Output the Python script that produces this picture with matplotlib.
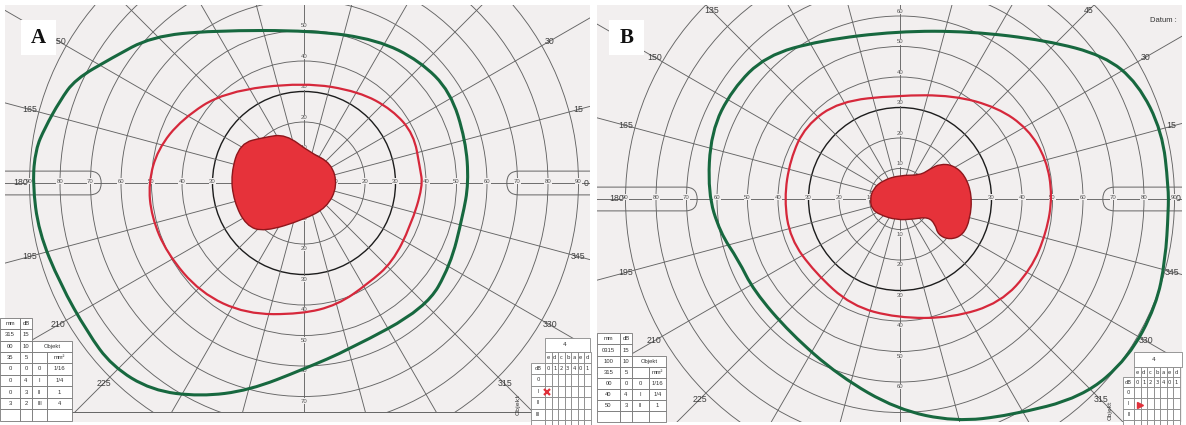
import matplotlib
matplotlib.use("Agg")
import matplotlib.pyplot as plt
import numpy as np
from matplotlib.patches import Circle, PathPatch, FancyBboxPatch, Rectangle
from matplotlib.path import Path

W, H = 1186, 425
K = 3.05          # pixels per degree on the scanned form
BG = "#f2efef"
GRID = "#646464"
TXT = "#3e3e3e"

RINGS = [10, 20, 30, 40, 50, 60, 70, 80, 90]
MERIDIANS = list(range(0, 360, 15))
VERT_LABELS = [10, 20, 30, 40, 50, 60, 70]

# isopters, degrees (x right, y up)
GREEN_A_X = [3, -30, -50, -63, -75, -80, -85, -88, -89, -87, -80, -71, -63, -50,
             -34, -18, 0, 15, 40, 48, 52, 54, 53, 48, 38, 24]
GREEN_A_Y = [50, 50, 48, 41, 34, 27, 18, 11, 0, -16, -33, -49, -60, -68,
             -70, -68, -61, -54.5, -41, -27, -11, 0, 14, 30, 40, 47]
RED_A_X = [0, -26, -40, -48, -51, -50, -45, -34, -19, -1, 11, 21, 29, 35, 39, 38, 36, 29, 18]
RED_A_Y = [33, 30, 21, 11, 0, -11, -23, -36, -43, -43, -40, -33, -26, -14, -1, 5, 16, 24, 30]
SCOTOMA_A_X = [-13, -6, 2, 9, 11, 7.5, 0, -13, -19, -23, -24, -21]
SCOTOMA_A_Y = [15, 16, 10, 6.5, -1, -8, -12, -16, -14, -6, 3, 13]

GREEN_B_X = [-1, -26, -44, -55, -62, -63, -59, -53, -48, -36, -20, -1, 18, 36,
             60, 75, 84, 87, 88, 88, 86, 78, 67, 48, 23]
GREEN_B_Y = [55, 52, 47, 36, 22, 2, -11, -20, -30, -44, -58, -69, -73, -71,
             -65, -52, -35, -20, -4, 4, 22, 38, 47, 52, 55]
RED_B_X = [-1, -20, -31, -36, -38, -36, -28, -16, -1, 17, 33, 43, 48, 50, 48, 42, 32, 17.5]
RED_B_Y = [34, 32, 24, 13, 0, -13, -24, -35, -39, -39, -34, -23, -11, 1, 13, 23, 30, 34]
SCOTOMA_B_X = [-9.8, -8.9, -5.5, 0, 6.6, 9.8, 13.1, 17.4, 21.3, 23.6, 23, 20.7, 16.4,
               12.5, 11.5, 9.2, 4.4, -1.1, -6.6, -9.2]
SCOTOMA_B_Y = [-0.3, 3.3, 6.2, 7.8, 7.8, 9.8, 11.5, 11.1, 7.8, 1.3, -6.6, -11.8, -13.4,
               -11.8, -8.2, -5.9, -6.6, -6.9, -5.2, -3.3]

# printed tables in the corners of the forms
TABLE_A_ROWS = [["mm", "dB"], ["315", "15"], ["00", "10", "Objekt", None],
                ["35", "5", "", "mm²"], ["0", "0", "0", "1/16"], ["0", "4", "I", "1/4"],
                ["0", "3", "II", "1"], ["3", "2", "III", "4"], ["", "", "", ""]]
TABLE_B_ROWS = [["mm", "dB"], ["0315", "15"], ["100", "10", "Objekt", None],
                ["315", "5", "", "mm²"], ["00", "0", "0", "1/16"], ["40", "4", "I", "1/4"],
                ["50", "3", "II", "1"], ["", "", "", ""]]
FILTER_HEAD = ["e", "d", "c", "b", "a", "e", "d"]
FILTER_DB = ["0", "1", "2", "3", "4", "0", "1"]
FILTER_ROWS = ["0", "I", "II", "III", "IV"]


def panel(fig, left, right, top, bottom, cx, cy):
    ax = fig.add_axes([left / W, 1 - bottom / H, (right - left) / W, (bottom - top) / H])
    ax.set_xlim((left - cx) / K, (right - cx) / K)
    ax.set_ylim((cy - bottom) / K, (cy - top) / K)
    ax.set_facecolor(BG)
    ax.set_xticks([])
    ax.set_yticks([])
    for s in ax.spines.values():
        s.set_visible(False)
    return ax


def smooth_closed(xs, ys):
    # quadratic bezier through the midpoints, read points act as control points
    p = np.column_stack([xs, ys]).astype(float)
    mid = (p + np.roll(p, -1, axis=0)) / 2
    verts = [mid[-1]]
    codes = [Path.MOVETO]
    for i in range(len(p)):
        verts += [p[i], mid[i]]
        codes += [Path.CURVE3, Path.CURVE3]
    return Path(verts, codes)


def draw_form(ax, green, red, blot, form_bottom=None):
    for r in RINGS:
        dark = r == 30
        ax.add_patch(Circle((0, 0), r, fill=False, ec="#1c1c1c" if dark else GRID,
                            lw=1.0 if dark else 0.65, zorder=1))
    for a in MERIDIANS:
        t = np.radians(a)
        ax.plot([5 * np.cos(t), 140 * np.cos(t)], [5 * np.sin(t), 140 * np.sin(t)],
                color=GRID, lw=0.65, zorder=1)
    # the rounded boxes on the horizontal meridian
    ax.add_patch(FancyBboxPatch((-140, -3.9), 140 - 66.5, 7.8,
                                boxstyle="round,pad=0,rounding_size=3.9",
                                fill=False, ec=GRID, lw=0.7, zorder=1))
    ax.add_patch(FancyBboxPatch((66.5, -3.9), 80, 7.8,
                                boxstyle="round,pad=0,rounding_size=3.9",
                                fill=False, ec=GRID, lw=0.7, zorder=1))
    x0, x1 = ax.get_xlim()
    y0, y1 = ax.get_ylim()
    for r in RINGS:
        for sx in (-1, 1):
            ax.text(sx * r, 0.6, str(r), fontsize=4.3, color="#555", ha="center",
                    va="center", family="Liberation Sans", zorder=2,
                    bbox=dict(fc=BG, ec="none", pad=0.2))
    for r in VERT_LABELS:
        for sy in (-1, 1):
            yy = sy * (r + 1.5)
            if y0 + 2 < yy < y1 - 2:
                ax.text(0, yy, str(r), fontsize=4.3, color="#555", ha="center",
                        va="center", family="Liberation Sans", zorder=2,
                        bbox=dict(fc=BG, ec="none", pad=0.2))

    if form_bottom is not None:
        ax.add_patch(Rectangle((x0, -200), x1 - x0, 200 + form_bottom, fc=BG, ec="none", zorder=2))
        ax.axhline(form_bottom, color=GRID, lw=0.7, zorder=2)
    for a in MERIDIANS:
        t = np.radians(a)
        px, py = 93 * np.cos(t), 93 * np.sin(t)
        margin = 1.3 if a == 0 else 3.4
        px = min(max(px, x0 + margin), x1 - margin)
        if form_bottom is not None and py < form_bottom:
            px, py = form_bottom / np.tan(t), form_bottom - 1.7
        if py > y1 - 1.8:
            if py - y1 > 4:
                continue
            py = y1 - 1.8
            px = py / np.tan(t)
        if py < y0 + 1.8:
            continue
        ax.text(px, py, str(a), fontsize=6.3, color=TXT, ha="center", va="center",
                family="Liberation Sans", zorder=3)

    ax.add_patch(PathPatch(smooth_closed(*blot), fc="#e6323a", ec="#8e161b",
                           lw=1.0, zorder=4))
    ax.add_patch(PathPatch(smooth_closed(*red), fill=False, ec="#d6283b",
                           lw=1.6, zorder=4))
    ax.add_patch(PathPatch(smooth_closed(*green), fill=False, ec="#17683f",
                           lw=2.2, zorder=4))


def draw_table(ov, cols, rows_y, rows):
    for i, row in enumerate(rows):
        ya, yb = rows_y[i], rows_y[i + 1]
        j = 0
        while j < len(row):
            span = 1
            while j + span < len(row) and row[j + span] is None:
                span += 1
            xa, xb = cols[j], cols[j + span]
            ov.add_patch(Rectangle((xa, ya), xb - xa, yb - ya, fc="white", ec="#777", lw=0.6))
            if row[j]:
                ov.text((xa + xb) / 2, (ya + yb) / 2, row[j], fontsize=4.2, color="#333",
                        ha="center", va="center", family="Liberation Sans")
            j += span


def draw_filter_table(ov, lab_x, data_x, right, top, row_h):
    cols = list(np.arange(data_x, right + 7, 6.5))
    y = top
    # header row with the filter number
    ov.add_patch(Rectangle((data_x, y), right - data_x, row_h[0], fc="white", ec="#888", lw=0.6))
    ov.text(data_x + 20, y + row_h[0] / 2, "4", fontsize=4.2, color="#333", ha="center", va="center")
    y += row_h[0]
    for labels, lab in ((FILTER_HEAD, ""), (FILTER_DB, "dB")):
        if lab:
            ov.add_patch(Rectangle((lab_x, y), data_x - lab_x, row_h[1], fc="white", ec="#888", lw=0.6))
            ov.text((lab_x + data_x) / 2, y + row_h[1] / 2, lab, fontsize=3.8, color="#333",
                    ha="center", va="center")
        for k, txt in enumerate(labels):
            ov.add_patch(Rectangle((cols[k], y), 6.5, row_h[1], fc="white", ec="#888", lw=0.6))
            ov.text(cols[k] + 3.25, y + row_h[1] / 2, txt, fontsize=3.8, color="#333",
                    ha="center", va="center")
        y += row_h[1]
    for lab in FILTER_ROWS:
        ov.add_patch(Rectangle((lab_x, y), data_x - lab_x, row_h[2], fc="white", ec="#888", lw=0.6))
        if y + row_h[2] / 2 < H - 3:
            ov.text((lab_x + data_x) / 2, y + row_h[2] / 2, lab, fontsize=3.8, color="#333",
                    ha="center", va="center")
        for k in range(len(FILTER_HEAD)):
            ov.add_patch(Rectangle((cols[k], y), 6.5, row_h[2], fc="white", ec="#888", lw=0.6))
        y += row_h[2]


fig = plt.figure(figsize=(W / 100, H / 100), dpi=100)
fig.patch.set_facecolor("white")

ax_a = panel(fig, 5, 590, 5, 422, 304, 183)
draw_form(ax_a, (GREEN_A_X, GREEN_A_Y), (RED_A_X, RED_A_Y), (SCOTOMA_A_X, SCOTOMA_A_Y),
          form_bottom=-75.1)
ax_b = panel(fig, 597, 1182, 5, 422, 900, 199)
draw_form(ax_b, (GREEN_B_X, GREEN_B_Y), (RED_B_X, RED_B_Y), (SCOTOMA_B_X, SCOTOMA_B_Y))

ov = fig.add_axes([0, 0, 1, 1], zorder=5)
ov.set_xlim(0, W)
ov.set_ylim(H, 0)
ov.axis("off")

draw_table(ov, [0, 20, 32, 47, 72], [318, 329, 341, 352, 363, 375, 386, 398, 409, 421], TABLE_A_ROWS)
draw_table(ov, [597, 620, 632, 649, 666], [333, 344, 356, 367, 378, 389, 400, 411, 422], TABLE_B_ROWS)
draw_filter_table(ov, 531, 545, 590, 338, (14, 11, 11.5))
draw_filter_table(ov, 1123, 1134, 1182, 352, (15, 10, 11))
ov.plot([547], [392], marker="x", color="#e0303a", ms=4, mew=1.6)
ov.plot([1140], [405], marker=">", color="#e0303a", ms=4)
ov.text(518, 405, "Objekt", rotation=90, fontsize=4.5, color="#333", ha="center", va="center")
ov.text(1110, 410, "Objekt", rotation=90, fontsize=4.2, color="#333", ha="center", va="center")
ov.text(1150, 20, "Datum :", fontsize=5.5, color="#333", ha="left", va="center",
        family="Liberation Sans")

for x, lab in ((21, "A"), (609, "B")):
    ov.add_patch(Rectangle((x, 20), 35, 35, fc="white", ec="none"))
    ov.text(x + 17.5, 38, lab, fontsize=15, fontweight="bold", family="Liberation Serif",
            ha="center", va="center", color="#111")

fig.savefig("out.png", dpi=100, facecolor="white")
